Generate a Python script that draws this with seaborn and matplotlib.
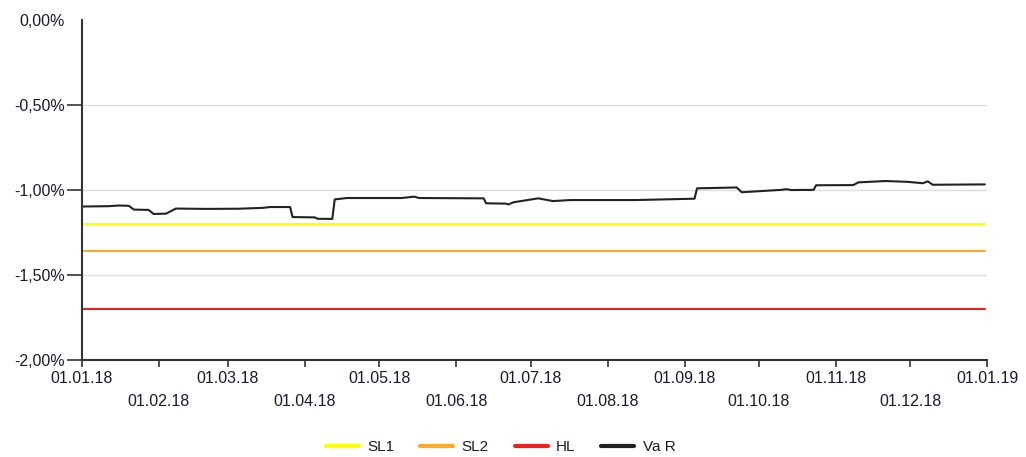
import matplotlib
matplotlib.use("Agg")
import matplotlib.pyplot as plt
import matplotlib.dates as mdates
from matplotlib.ticker import FuncFormatter, FixedLocator
from matplotlib.lines import Line2D
import pandas as pd
import seaborn as sns

# ---- data ----
var_dates = ["2018-01-01", "2018-01-12", "2018-01-16", "2018-01-20", "2018-01-22",
             "2018-01-28", "2018-01-30", "2018-02-04", "2018-02-08", "2018-02-20",
             "2018-03-05", "2018-03-15", "2018-03-18", "2018-03-26", "2018-03-27",
             "2018-04-05", "2018-04-06", "2018-04-12", "2018-04-13", "2018-04-18",
             "2018-05-10", "2018-05-15", "2018-05-17", "2018-06-12", "2018-06-13",
             "2018-06-21", "2018-06-22", "2018-06-24", "2018-07-04", "2018-07-10",
             "2018-07-17", "2018-08-12", "2018-09-05", "2018-09-06", "2018-09-22",
             "2018-09-24", "2018-10-10", "2018-10-12", "2018-10-14", "2018-10-23",
             "2018-10-24", "2018-11-08", "2018-11-10", "2018-11-21", "2018-11-30",
             "2018-12-06", "2018-12-08", "2018-12-10", "2018-12-31"]
var_values = [-1.100, -1.098, -1.094, -1.096, -1.118,
              -1.120, -1.144, -1.142, -1.112, -1.114,
              -1.113, -1.108, -1.103, -1.103, -1.162,
              -1.164, -1.172, -1.173, -1.058, -1.050,
              -1.050, -1.042, -1.050, -1.052, -1.081,
              -1.083, -1.088, -1.075, -1.052, -1.068,
              -1.062, -1.062, -1.054, -0.993, -0.988,
              -1.016, -1.002, -0.998, -1.003, -1.002,
              -0.975, -0.974, -0.958, -0.950, -0.955,
              -0.963, -0.952, -0.972, -0.970]

limit_dates = ["2018-01-01", "2018-12-31"]
sl1_value = -1.20
sl2_value = -1.36
hl_value = -1.70

series_names = ["SL1", "SL2", "HL", "Va R"]
series_colors = ["#FFFF00", "#FFA726", "#F02020", "#222222"]

x_ticks = ["2018-%02d-01" % m for m in range(1, 13)] + ["2019-01-01"]
y_ticks = [-2.0, -1.5, -1.0, -0.5, 0.0]

# ---- long-form table ----
rows = []
for name, val in zip(series_names[:3], [sl1_value, sl2_value, hl_value]):
    for d in limit_dates:
        rows.append({"date": pd.Timestamp(d), "value": val, "series": name})
for d, v in zip(var_dates, var_values):
    rows.append({"date": pd.Timestamp(d), "value": v, "series": "Va R"})
df = pd.DataFrame(rows)

sns.set_style("white")
plt.rcParams["font.family"] = ["Liberation Sans", "DejaVu Sans"]

fig = plt.figure(figsize=(10.26, 4.57), dpi=100)
ax = fig.add_axes([0.0796, 0.2133, 0.8827, 0.744])

sns.lineplot(data=df, x="date", y="value", hue="series", hue_order=series_names,
             palette=dict(zip(series_names, series_colors)), ax=ax,
             linewidth=1.5, legend=False, estimator=None, sort=True)

ax.set_xlim(pd.Timestamp("2018-01-01"), pd.Timestamp("2019-01-01"))
ax.set_ylim(-2.0, 0.0)

# y axis
ax.yaxis.set_major_locator(FixedLocator(y_ticks))
def yfmt(v, pos):
    if abs(v) < 1e-9:
        v = 0.0
    return ("%.2f%%" % v).replace(".", ",")
ax.yaxis.set_major_formatter(FuncFormatter(yfmt))

# x axis
xt = [mdates.date2num(pd.Timestamp(d)) for d in x_ticks]
ax.set_xticks(xt)
labels = []
for i, d in enumerate(x_ticks):
    s = pd.Timestamp(d).strftime("%d.%m.%y")
    labels.append(s if i % 2 == 0 else "\n" + s)
ax.set_xticklabels(labels)

tick_color = "#333333"
label_color = "#1a1a2e"
ax.tick_params(axis="x", which="major", direction="out", length=5, width=1.2,
               color=tick_color, labelsize=11.5, labelcolor=label_color, bottom=True, pad=3)
ax.tick_params(axis="y", which="major", direction="out", length=11, width=1.2,
               color=tick_color, labelsize=11.5, labelcolor=label_color, left=True, pad=1)
for lab in ax.get_xticklabels():
    lab.set_linespacing(1.7)

ax.grid(axis="y", color="#DDDDDD", linewidth=1.0)
ax.grid(axis="x", visible=False)
yt = ax.yaxis.get_major_ticks()
yt[-1].tick1line.set_visible(False)
yt[-1].gridline.set_visible(False)
yt[0].gridline.set_visible(False)

for side in ["top", "right"]:
    ax.spines[side].set_visible(False)
for side in ["left", "bottom"]:
    ax.spines[side].set_color(tick_color)
    ax.spines[side].set_linewidth(1.5)

ax.set_xlabel("")
ax.set_ylabel("")

# legend
handles = [Line2D([0], [0], color=c, linewidth=3) for c in series_colors]
fig.legend(handles, series_names, loc="center", bbox_to_anchor=(0.488, 0.022),
           ncol=4, frameon=False, handlelength=2.15, columnspacing=1.7,
           handletextpad=0.55, fontsize=11, labelcolor=label_color)

fig.savefig("out.png", dpi=100)
